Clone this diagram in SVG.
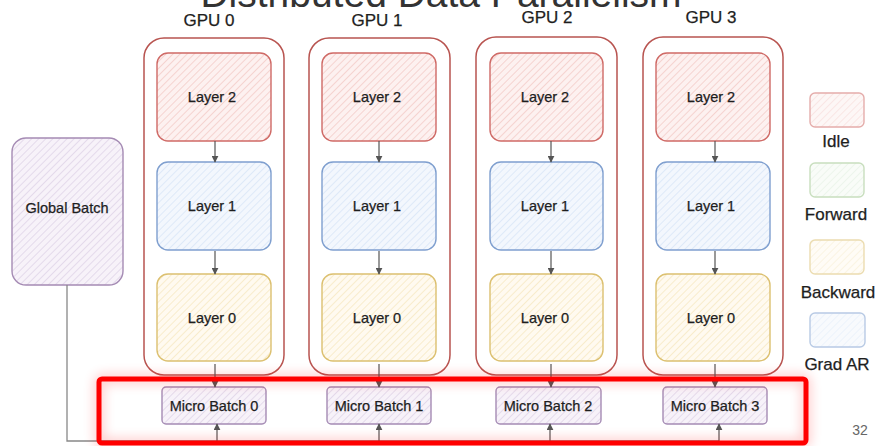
<svg xmlns="http://www.w3.org/2000/svg" width="880" height="446" viewBox="0 0 880 446">
  <style>
    text { font-family: "Liberation Sans", Arial, Helvetica, sans-serif; fill: #1e1e1e; stroke: #1e1e1e; stroke-width: 0.25; }
    .title { font-size: 39px; fill: #333; stroke: none; }
    .gpu-label { font-size: 17px; text-anchor: middle; }
    .label { font-size: 14.5px; text-anchor: middle; }
    .legend-label { font-size: 17px; text-anchor: middle; }
    .page { font-size: 14px; fill: #666; stroke: none; text-anchor: middle; }
    .gpu { fill: #fff; stroke: #b85450; stroke-width: 1.5; }
    .idle { fill: url(#hatch-red); stroke: #cf6a66; stroke-width: 1.4; }
    .grad { fill: url(#hatch-blue); stroke: #7f9fcf; stroke-width: 1.4; }
    .back { fill: url(#hatch-yellow); stroke: #dcc070; stroke-width: 1.4; }
    .fwd { fill: url(#hatch-green); stroke: #9cc489; stroke-width: 1.4; }
    .batch { fill: url(#hatch-purple); stroke: #a58bb4; stroke-width: 1.4; }
    .legend { opacity: 0.55; }
    .edge { fill: none; stroke: #555; stroke-width: 1.2; }
    .feed { fill: none; stroke: #888; stroke-width: 1.3; }
  </style>
  <defs>
    <pattern id="hatch-red" patternUnits="userSpaceOnUse" width="5" height="5" patternTransform="rotate(45)">
      <rect width="5" height="5" fill="#fdf1f0"/>
      <line x1="0" y1="0" x2="0" y2="5" stroke="#f2c6c3" stroke-width="1.4"/>
    </pattern>
    <pattern id="hatch-blue" patternUnits="userSpaceOnUse" width="5" height="5" patternTransform="rotate(45)">
      <rect width="5" height="5" fill="#f3f7fd"/>
      <line x1="0" y1="0" x2="0" y2="5" stroke="#d6e3f6" stroke-width="1.4"/>
    </pattern>
    <pattern id="hatch-yellow" patternUnits="userSpaceOnUse" width="5" height="5" patternTransform="rotate(45)">
      <rect width="5" height="5" fill="#fffaf0"/>
      <line x1="0" y1="0" x2="0" y2="5" stroke="#f5e6bd" stroke-width="1.4"/>
    </pattern>
    <pattern id="hatch-green" patternUnits="userSpaceOnUse" width="5" height="5" patternTransform="rotate(45)">
      <rect width="5" height="5" fill="#f5faf4"/>
      <line x1="0" y1="0" x2="0" y2="5" stroke="#d6e9d4" stroke-width="1.4"/>
    </pattern>
    <pattern id="hatch-purple" patternUnits="userSpaceOnUse" width="5" height="5" patternTransform="rotate(45)">
      <rect width="5" height="5" fill="#f7f2f9"/>
      <line x1="0" y1="0" x2="0" y2="5" stroke="#ddd0e5" stroke-width="1.4"/>
    </pattern>
    <marker id="arrow" viewBox="0 0 10 10" refX="9" refY="5" markerWidth="7" markerHeight="7" markerUnits="userSpaceOnUse" orient="auto">
      <path d="M0,0 L10,5 L0,10 z" fill="#555"/>
    </marker>
    <filter id="glow" x="-10%" y="-50%" width="120%" height="200%">
      <feGaussianBlur stdDeviation="6"/>
    </filter>
  </defs>

  <rect width="880" height="446" fill="#fff"/>

  <!-- slide title, running off the top edge -->
  <text class="title" x="441" y="7" text-anchor="middle">Distributed Data Parallelism</text>

  <!-- GPU 0 -->
  <g id="gpu0">
    <text class="gpu-label" x="209" y="26">GPU 0</text>
    <rect class="gpu" x="144" y="38" width="140" height="337" rx="20"/>
    <g id="gpu0-layer2"><rect class="idle" x="157" y="53" width="114" height="88" rx="11"/><text class="label" x="212" y="102">Layer 2</text></g>
    <g id="gpu0-layer1"><rect class="grad" x="157" y="162" width="114" height="88" rx="11"/><text class="label" x="212" y="211">Layer 1</text></g>
    <g id="gpu0-layer0"><rect class="back" x="157" y="274" width="114" height="87" rx="11"/><text class="label" x="212" y="323">Layer 0</text></g>
  </g>

  <!-- GPU 1 -->
  <g id="gpu1">
    <text class="gpu-label" x="377" y="26">GPU 1</text>
    <rect class="gpu" x="309" y="38" width="141" height="337" rx="20"/>
    <g id="gpu1-layer2"><rect class="idle" x="322" y="53" width="114" height="88" rx="11"/><text class="label" x="377" y="102">Layer 2</text></g>
    <g id="gpu1-layer1"><rect class="grad" x="322" y="162" width="114" height="88" rx="11"/><text class="label" x="377" y="211">Layer 1</text></g>
    <g id="gpu1-layer0"><rect class="back" x="322" y="274" width="114" height="87" rx="11"/><text class="label" x="377" y="323">Layer 0</text></g>
  </g>

  <!-- GPU 2 -->
  <g id="gpu2">
    <text class="gpu-label" x="547" y="23">GPU 2</text>
    <rect class="gpu" x="476" y="37" width="141" height="338" rx="20"/>
    <g id="gpu2-layer2"><rect class="idle" x="490" y="53" width="113" height="88" rx="11"/><text class="label" x="545" y="102">Layer 2</text></g>
    <g id="gpu2-layer1"><rect class="grad" x="490" y="162" width="113" height="88" rx="11"/><text class="label" x="545" y="211">Layer 1</text></g>
    <g id="gpu2-layer0"><rect class="back" x="490" y="274" width="113" height="87" rx="11"/><text class="label" x="545" y="323">Layer 0</text></g>
  </g>

  <!-- GPU 3 -->
  <g id="gpu3">
    <text class="gpu-label" x="711" y="23">GPU 3</text>
    <rect class="gpu" x="643" y="37" width="140" height="338" rx="20"/>
    <g id="gpu3-layer2"><rect class="idle" x="656" y="53" width="114" height="88" rx="11"/><text class="label" x="711" y="102">Layer 2</text></g>
    <g id="gpu3-layer1"><rect class="grad" x="656" y="162" width="114" height="88" rx="11"/><text class="label" x="711" y="211">Layer 1</text></g>
    <g id="gpu3-layer0"><rect class="back" x="656" y="274" width="114" height="87" rx="11"/><text class="label" x="711" y="323">Layer 0</text></g>
  </g>

  <!-- Global batch source -->
  <g id="global-batch">
    <rect class="batch" x="12" y="138" width="111" height="147" rx="14"/>
    <text class="label" x="67" y="213">Global Batch</text>
  </g>

  <!-- Micro batches -->
  <g id="micro-batch-0"><rect class="batch" x="162" y="387" width="104" height="37" rx="4"/><text class="label" x="214" y="411">Micro Batch 0</text></g>
  <g id="micro-batch-1"><rect class="batch" x="327" y="387" width="104" height="37" rx="4"/><text class="label" x="379" y="411">Micro Batch 1</text></g>
  <g id="micro-batch-2"><rect class="batch" x="496" y="387" width="105" height="37" rx="4"/><text class="label" x="548" y="411">Micro Batch 2</text></g>
  <g id="micro-batch-3"><rect class="batch" x="663" y="387" width="104" height="37" rx="4"/><text class="label" x="715" y="411">Micro Batch 3</text></g>

  <!-- Legend -->
  <g id="legend-idle"><rect class="idle legend" x="810" y="93" width="54" height="34" rx="5"/><text class="legend-label" x="836" y="147">Idle</text></g>
  <g id="legend-forward"><rect class="fwd legend" x="810" y="163" width="54" height="34" rx="5"/><text class="legend-label" x="836" y="220">Forward</text></g>
  <g id="legend-backward"><rect class="back legend" x="810" y="240" width="54" height="34" rx="5"/><text class="legend-label" x="838" y="298">Backward</text></g>
  <g id="legend-grad-ar"><rect class="grad legend" x="810" y="313" width="55" height="34" rx="5"/><text class="legend-label" x="837" y="370">Grad AR</text></g>

  <!-- Connectors -->
  <g id="connectors">
    <!-- layer to layer inside each GPU -->
    <path class="edge" d="M215,141 V162" marker-end="url(#arrow)"/>
    <path class="edge" d="M215,251 V274" marker-end="url(#arrow)"/>
    <path class="edge" d="M379,141 V162" marker-end="url(#arrow)"/>
    <path class="edge" d="M379,251 V274" marker-end="url(#arrow)"/>
    <path class="edge" d="M551,141 V162" marker-end="url(#arrow)"/>
    <path class="edge" d="M551,251 V274" marker-end="url(#arrow)"/>
    <path class="edge" d="M715,141 V162" marker-end="url(#arrow)"/>
    <path class="edge" d="M715,251 V274" marker-end="url(#arrow)"/>
    <!-- Layer 0 down to micro batch -->
    <path class="edge" d="M215,364 V387" marker-end="url(#arrow)"/>
    <path class="edge" d="M379,364 V387" marker-end="url(#arrow)"/>
    <path class="edge" d="M551,364 V387" marker-end="url(#arrow)"/>
    <path class="edge" d="M715,364 V387" marker-end="url(#arrow)"/>
    <!-- global batch feed line -->
    <path class="feed" d="M67,285 V441 H719"/>
    <path class="edge" d="M217,441 V424" marker-end="url(#arrow)"/>
    <path class="edge" d="M379,441 V424" marker-end="url(#arrow)"/>
    <path class="edge" d="M550,441 V424" marker-end="url(#arrow)"/>
    <path class="edge" d="M719,441 V424" marker-end="url(#arrow)"/>
  </g>

  <!-- Highlight frame around the micro batch row -->
  <rect x="99" y="379" width="707" height="64" rx="3" fill="none" stroke="#ff0000" stroke-width="9" opacity="0.22" filter="url(#glow)"/>
  <rect x="99" y="379" width="707" height="64" rx="3" fill="none" stroke="#ff0000" stroke-width="5"/>

  <text class="page" x="860" y="435">32</text>
</svg>
